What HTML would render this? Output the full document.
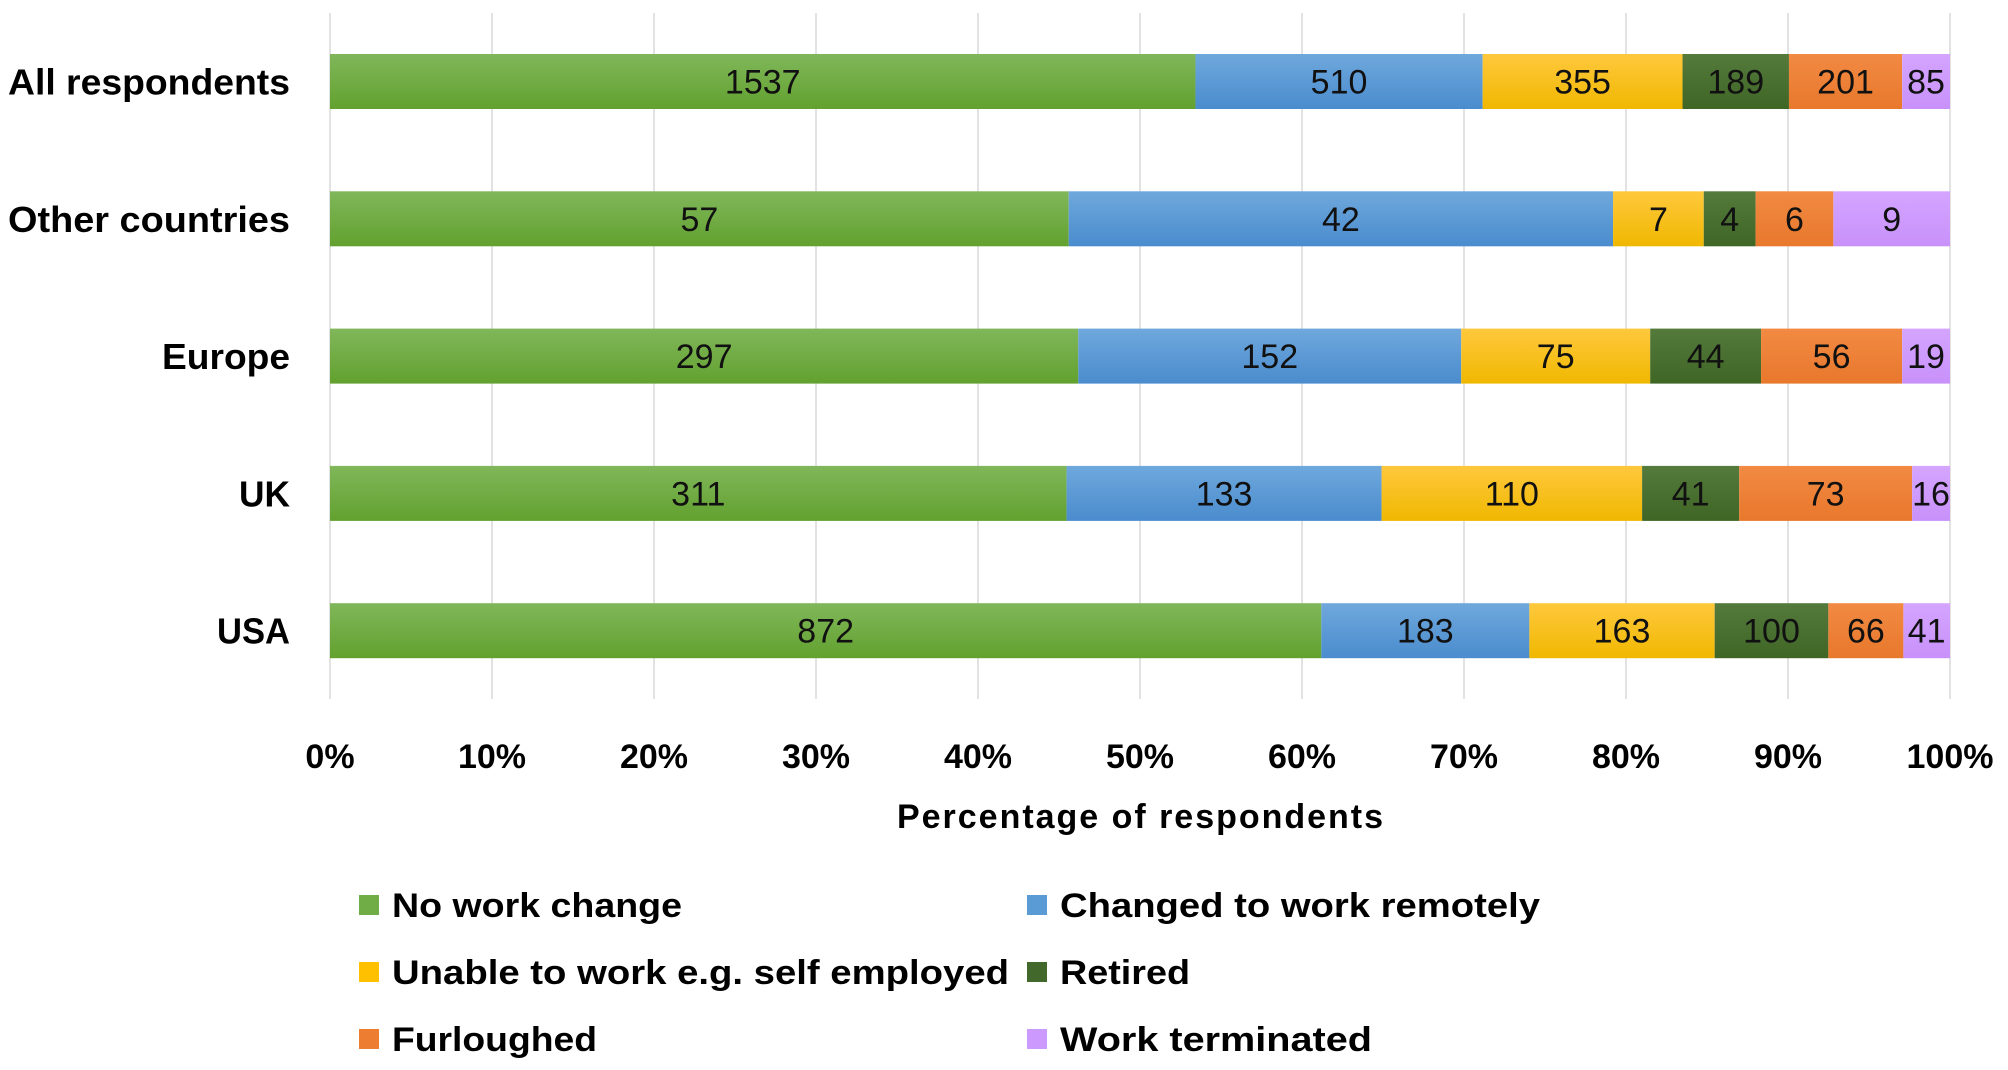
<!DOCTYPE html>
<html><head><meta charset="utf-8"><style>
html,body{margin:0;padding:0;background:#fff}
svg{display:block;font-family:"Liberation Sans",sans-serif}
</style></head><body>
<svg id="chart" width="2008" height="1070" viewBox="0 0 2008 1070" xmlns="http://www.w3.org/2000/svg">
<defs>
<linearGradient id="g0" x1="0" y1="0" x2="0" y2="1"><stop offset="0" stop-color="#80b75a"/><stop offset="1" stop-color="#62a12f"/></linearGradient>
<linearGradient id="g1" x1="0" y1="0" x2="0" y2="1"><stop offset="0" stop-color="#6fa8dc"/><stop offset="1" stop-color="#4a8cce"/></linearGradient>
<linearGradient id="g2" x1="0" y1="0" x2="0" y2="1"><stop offset="0" stop-color="#ffc83d"/><stop offset="1" stop-color="#f0b800"/></linearGradient>
<linearGradient id="g3" x1="0" y1="0" x2="0" y2="1"><stop offset="0" stop-color="#547a3c"/><stop offset="1" stop-color="#3f6625"/></linearGradient>
<linearGradient id="g4" x1="0" y1="0" x2="0" y2="1"><stop offset="0" stop-color="#f28a43"/><stop offset="1" stop-color="#e8782c"/></linearGradient>
<linearGradient id="g5" x1="0" y1="0" x2="0" y2="1"><stop offset="0" stop-color="#d4a5ff"/><stop offset="1" stop-color="#c891fa"/></linearGradient>
</defs>
<g id="grid"></g>
<g id="bars"></g>
<g id="labels"></g>
<text x="1140" y="828" text-anchor="middle" font-size="34" font-weight="bold" textLength="486">Percentage of respondents</text>
<g id="legend"></g>
</svg>
<script>
const categories = ["All respondents","Other countries","Europe","UK","USA"];
const seriesNames = ["No work change","Changed to work remotely","Unable to work e.g. self employed","Retired","Furloughed","Work terminated"];
const noChange = [1537,57,297,311,872];
const remote = [510,42,152,133,183];
const unable = [355,7,75,110,163];
const retired = [189,4,44,41,100];
const furloughed = [201,6,56,73,66];
const terminated = [85,9,19,16,41];
const tickLabels = ["0%","10%","20%","30%","40%","50%","60%","70%","80%","90%","100%"];

const series = [noChange,remote,unable,retired,furloughed,terminated];
const fills = ["url(#g0)","url(#g1)","url(#g2)","url(#g3)","url(#g4)","url(#g5)"];
const legendFills = ["#70ad47","#5b9bd5","#ffc000","#43682b","#ed7d31","#cc99ff"];
const catWidths = [282,282,128,51,73];
const NS="http://www.w3.org/2000/svg";
const X0=330,X1=1950,Y0=13,Y1=699;
const xScale = f => X0 + f*(X1-X0);
const bandTop = 54, bandStep = 137.3, barH = 55;
const yScale = i => bandTop + i*bandStep;
function mk(tag, attrs, parent){const e=document.createElementNS(NS,tag);for(const k in attrs)e.setAttribute(k,attrs[k]);parent.appendChild(e);return e;}

const grid=document.getElementById('grid');
tickLabels.forEach((t,i)=>{
  const x=xScale(i/(tickLabels.length-1));
  const l=mk('line',{x1:x,x2:x,y1:Y0,y2:Y1,stroke:'#d9d9d9','stroke-width':1.5},grid);
  
  
  const tx=mk('text',{x:x,y:768,'text-anchor':'middle','font-size':34,'font-weight':'bold'},grid);
  tx.textContent=t;
  
  
});

const bars=document.getElementById('bars');
const labels=document.getElementById('labels');
categories.forEach((c,i)=>{
  const y=yScale(i);
  const total=series.reduce((s,a)=>s+a[i],0);
  let cum=0;
  const ct=mk('text',{x:290,y:y+barH/2+13,'text-anchor':'end','font-size':36,'font-weight':'bold',textLength:catWidths[i],lengthAdjust:'spacingAndGlyphs'},labels);
  ct.textContent=c;
  
  
  series.forEach((arr,s)=>{
    const xa=xScale(cum/total); cum+=arr[i]; const xb=xScale(cum/total);
    const r=mk('rect',{x:xa,y:y,width:Math.max(0,xb-xa),height:barH,fill:fills[s]},bars);
    
    
    const v=mk('text',{x:(xa+xb)/2,y:y+barH/2+12,'text-anchor':'middle','font-size':34,fill:'#111'},labels);
    v.textContent=arr[i];
    
    
  });
});

const legend=document.getElementById('legend');
const lx=[359,1027], ly=[905,972,1039];
const widths=[290,480,617,130,205,312];
seriesNames.forEach((n,s)=>{
  const x=lx[s%2], y=ly[Math.floor(s/2)];
  const g=mk('g',{},legend);
  
  
  const sq=mk('rect',{x:x,y:y-10,width:20,height:20,fill:legendFills[s]},g);
  
  
  const t=mk('text',{x:x+33,y:y+12,'font-size':34,'font-weight':'bold',textLength:widths[s],lengthAdjust:'spacingAndGlyphs'},g);
  t.textContent=n;
  
  
});
</script>
</body></html>
